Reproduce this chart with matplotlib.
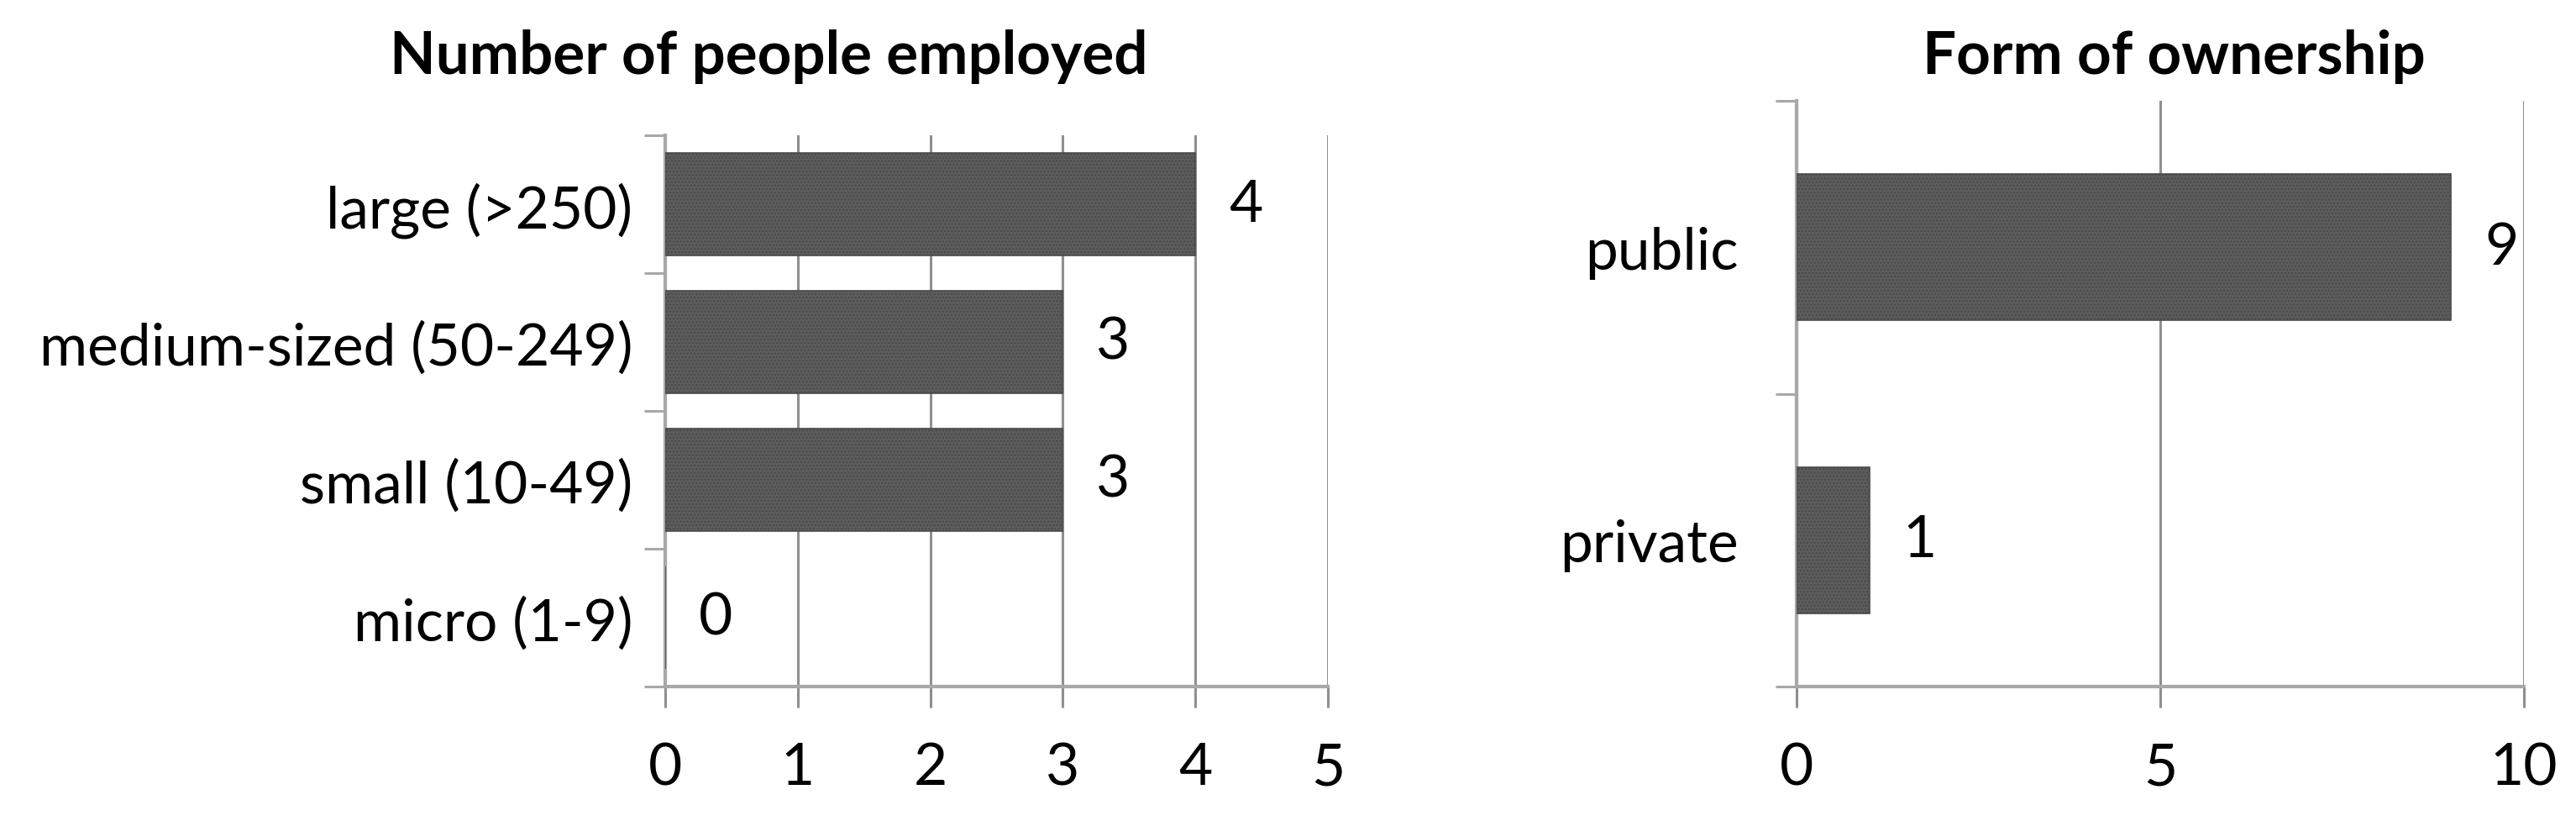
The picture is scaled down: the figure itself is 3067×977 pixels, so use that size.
import matplotlib
matplotlib.use("Agg")
import matplotlib.pyplot as plt
import numpy as np

# Data
size_categories = ["micro (1-9)", "small (10-49)", "medium-sized (50-249)", "large (>250)"]
size_values = [0, 3, 3, 4]
size_ticks = [0, 1, 2, 3, 4, 5]

own_categories = ["private", "public"]
own_values = [1, 9]
own_ticks = [0, 5, 10]

title_left = "Number of people employed"
title_right = "Form of ownership"

plt.rcParams['font.family'] = ['Lato', 'DejaVu Sans']
plt.rcParams['hatch.color'] = '#6c6c6c'
plt.rcParams['hatch.linewidth'] = 1.0

W, H = 3067, 978
fig = plt.figure(figsize=(W / 100, H / 100), dpi=100)

BAR = '#5c5c5c'
EDGE = '#4a4a4a'
GRID = '#8f8f8f'
SPINE = '#a8a8a8'
FS = 50
TFS = 51


def style(ax, cats, vals, ticks, height, ylab_pad, hatch):
    y = np.arange(len(cats))
    ax.barh(y, vals, height=height, color=BAR, edgecolor=EDGE, linewidth=1.2,
            hatch=hatch, zorder=3)
    ax.set_ylim(-0.5, len(cats) - 0.5)
    ax.set_xlim(ticks[0], ticks[-1])
    ax.set_xticks(ticks)
    ax.set_xticklabels([str(t) for t in ticks])
    ax.set_yticks(y)
    ax.set_yticklabels(cats)
    ax.set_yticks(np.arange(len(cats) + 1) - 0.5, minor=True)
    ax.tick_params(axis='y', which='major', length=0, pad=ylab_pad, labelsize=FS)
    ax.tick_params(axis='y', which='minor', length=18, width=2.2, color=SPINE)
    ax.tick_params(axis='x', which='major', length=18, width=2.2, color=GRID,
                   pad=29, labelsize=FS)
    ax.grid(axis='x', color=GRID, linewidth=2.2, zorder=0)
    ax.set_axisbelow(True)
    for s in ['top', 'right']:
        ax.spines[s].set_visible(False)
    for s in ['left', 'bottom']:
        ax.spines[s].set_color(SPINE)
        ax.spines[s].set_linewidth(3)
    for yi, v in zip(y, vals):
        ax.annotate(str(v), xy=(v, yi), xytext=(43, 0), textcoords='offset points',
                    ha='center', va='center', fontsize=FS, color='black')


ax1 = fig.add_axes([792 / W, 1 - 818 / H, (1581 - 792) / W, (818 - 162) / H])
style(ax1, size_categories, size_values, size_ticks, 0.74, 28, '....')

ax2 = fig.add_axes([2139 / W, 1 - 818 / H, (3005 - 2139) / W, (818 - 121) / H])
style(ax2, own_categories, own_values, own_ticks, 0.5, 50, '....')

fig.text(915 / W, 1 - 68 / H, title_left, ha='center', va='center',
         fontsize=TFS, fontweight='bold')
fig.text(2588 / W, 1 - 68 / H, title_right, ha='center', va='center',
         fontsize=TFS, fontweight='bold')

fig.savefig("out.png", dpi=100, facecolor='white')
